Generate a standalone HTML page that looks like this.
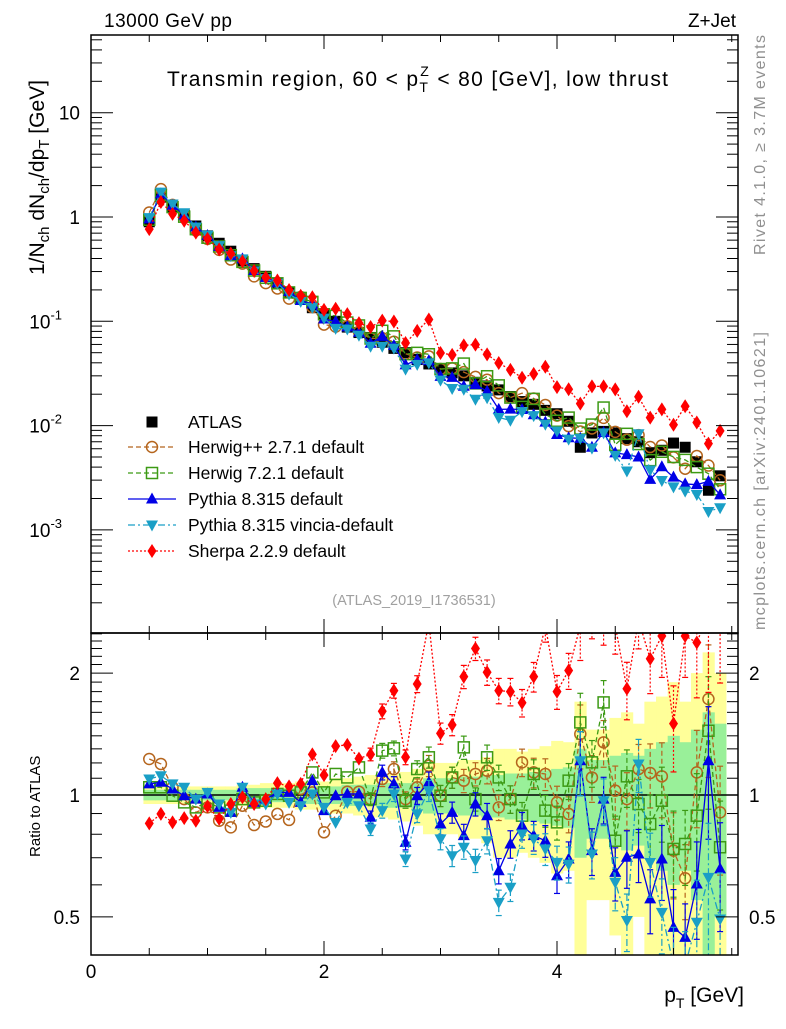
<!DOCTYPE html>
<html><head><meta charset="utf-8"><style>
body{margin:0;background:#fff}
svg{font-family:"Liberation Sans",Arial,sans-serif}
</style></head><body>
<svg id="chart" width="786" height="1024" viewBox="0 0 786 1024" xmlns="http://www.w3.org/2000/svg">
<defs>
<clipPath id="cm"><rect x="91" y="35" width="647" height="598"/></clipPath>
<clipPath id="cr"><rect x="91" y="633" width="647" height="322"/></clipPath>
</defs>
<g id="bands" clip-path="url(#cr)"></g>
<g id="main" clip-path="url(#cm)"></g>
<g id="ratio" clip-path="url(#cr)"></g>
<g id="axes"></g>
<text x="104" y="27" font-size="19" textLength="128">13000 GeV pp</text>
<text x="736" y="27" font-size="19" text-anchor="end">Z+Jet</text>
<text x="167" y="86" font-size="21" textLength="501" lengthAdjust="spacing">Transmin region, 60 &lt; p<tspan font-size="14" dy="6">T</tspan><tspan font-size="14" dx="-9" dy="-16">Z</tspan><tspan dy="10"> &lt; 80 [GeV], low thrust</tspan></text>
<text x="414" y="605" font-size="14.5" fill="#a0a0a0" text-anchor="middle">(ATLAS_2019_I1736531)</text>
<text transform="translate(765,255) rotate(-90)" font-size="16" fill="#909090" textLength="220">Rivet 4.1.0, ≥ 3.7M events</text>
<text transform="translate(765,630) rotate(-90)" font-size="16" fill="#909090" textLength="298">mcplots.cern.ch [arXiv:2401.10621]</text>
<text transform="translate(44,275) rotate(-90)" font-size="21">1/N<tspan font-size="15" dy="5">ch</tspan><tspan dy="-5"> dN</tspan><tspan font-size="15" dy="5">ch</tspan><tspan dy="-5">/dp</tspan><tspan font-size="15" dy="5">T</tspan><tspan dy="-5"> [GeV]</tspan></text>
<text transform="translate(40,857) rotate(-90)" font-size="15">Ratio to ATLAS</text>
<text x="744" y="1002" font-size="21" text-anchor="end">p<tspan font-size="14" dy="6">T</tspan><tspan dy="-6"> [GeV]</tspan></text>
<g id="legend"></g>
</svg>
<script>
const xs = [0.5,0.6,0.7,0.8,0.9,1.0,1.1,1.2,1.3,1.4,1.5,1.6,1.7,1.8,1.9,2.0,2.1,2.2,2.3,2.4,2.5,2.6,2.7,2.8,2.9,3.0,3.1,3.2,3.3,3.4,3.5,3.6,3.7,3.8,3.9,4.0,4.1,4.2,4.3,4.4,4.5,4.6,4.7,4.8,4.9,5.0,5.1,5.2,5.3,5.4];
const atlas = [0.90,1.55,1.25,1.05,0.82,0.66,0.56,0.47,0.38,0.32,0.27,0.23,0.19,0.165,0.135,0.115,0.10,0.088,0.078,0.070,0.063,0.055,0.050,0.043,0.039,0.035,0.032,0.030,0.026,0.024,0.022,0.019,0.017,0.016,0.014,0.013,0.011,0.0062,0.0085,0.0088,0.0085,0.0075,0.0070,0.0055,0.0058,0.0068,0.0062,0.0045,0.0024,0.0033];
const errTot = [0.05,0.05,0.05,0.05,0.05,0.05,0.05,0.05,0.06,0.06,0.07,0.07,0.07,0.08,0.08,0.08,0.10,0.10,0.11,0.12,0.12,0.13,0.14,0.16,0.20,0.20,0.20,0.22,0.22,0.24,0.30,0.30,0.28,0.30,0.32,0.36,0.35,0.70,0.45,0.45,0.55,0.60,0.50,0.70,0.75,0.90,0.70,1.00,1.25,1.00];
const errStat = [0.03,0.03,0.03,0.03,0.03,0.03,0.03,0.03,0.04,0.04,0.04,0.04,0.04,0.05,0.05,0.05,0.05,0.06,0.06,0.06,0.07,0.07,0.07,0.08,0.10,0.10,0.10,0.11,0.11,0.12,0.12,0.13,0.13,0.14,0.15,0.16,0.17,0.30,0.22,0.22,0.25,0.27,0.25,0.30,0.35,0.40,0.35,0.45,0.60,0.50];
const rHerwigPP = [1.227,1.193,1.045,0.977,0.906,0.932,0.864,0.832,0.941,0.843,0.860,0.898,0.868,1.035,1.015,0.809,0.889,1.019,1.019,0.977,1.095,1.159,0.977,1.045,1.181,0.996,1.105,1.085,1.127,1.148,0.932,0.977,1.204,1.137,1.127,0.959,0.898,1.414,1.105,1.349,1.025,0.977,1.159,1.133,1.112,0.729,0.623,1.137,1.726,0.906];
const rHerwig7 = [1.045,1.045,0.996,0.959,0.932,0.959,0.932,0.915,0.977,0.959,0.968,1.006,0.996,1.015,1.137,1.015,1.127,1.105,1.170,0.977,1.287,1.304,0.968,1.159,1.239,0.996,1.105,1.311,0.977,1.239,1.105,0.977,0.889,1.127,0.915,0.856,1.085,1.511,1.204,1.693,0.771,1.112,0.950,0.848,0.968,0.736,0.757,0.889,1.441,0.743];
const rPythia = [1.065,1.075,1.035,0.996,0.977,1.006,0.932,0.906,1.045,0.959,0.977,1.015,1.015,0.959,1.085,0.915,0.996,1.006,1.006,0.881,1.137,1.065,0.764,0.996,1.075,0.848,0.906,0.794,0.950,0.889,0.650,0.757,0.840,0.794,0.771,0.632,0.695,1.215,0.729,0.977,0.644,0.702,0.715,0.554,0.695,0.471,0.445,0.603,1.215,0.657];
const rVincia = [1.095,1.116,1.065,1.045,0.977,1.015,0.950,0.906,1.045,0.950,0.950,1.006,0.959,0.941,1.006,0.932,0.856,0.959,0.941,0.824,0.915,1.006,0.695,0.898,1.025,0.779,0.708,0.743,0.689,0.771,0.543,0.592,0.801,0.779,0.736,0.682,0.675,1.215,0.715,0.968,0.609,0.490,1.193,0.682,0.513,0.38,0.38,0.485,0.626,0.494];
const rSherpa = [0.851,0.898,0.856,0.877,0.864,0.938,0.873,0.95,0.987,0.95,0.977,1.07,1.05,1.065,1.26,1.12,1.32,1.33,1.23,1.26,1.61,1.81,1.24,1.88,2.67,1.42,1.49,1.96,2.30,2.01,1.81,1.80,1.69,1.96,2.62,1.80,2.03,2.62,2.8,2.7,2.62,1.83,2.7,2.17,2.47,1.50,2.47,2.38,2.8,2.7];

const NS='http://www.w3.org/2000/svg';
const X = v => 91 + 116.5*v;
const YM = v => 217 - 104.3*Math.log10(v);
const YR = v => 795 - 405*Math.log10(v);
function mk(tag, attrs, parent){const e=document.createElementNS(NS,tag);for(const k in attrs)e.setAttribute(k,attrs[k]);parent.appendChild(e);return e;}
const gB=document.getElementById('bands'), gM=document.getElementById('main'), gR=document.getElementById('ratio'), gA=document.getElementById('axes'), gL=document.getElementById('legend');

const bandSets=[[errTot,'#ffff99','total-uncertainty-band'],[errStat,'#99f099','stat-uncertainty-band']];
bandSets.forEach(([err,col,name])=>{
  err.forEach((e,i)=>{
    const lo=Math.max(1-e,0.3), hi=1+e;
    const r=mk('rect',{x:X(xs[i]-0.05),y:YR(hi),width:116.5*0.1+0.5,height:YR(lo)-YR(hi),fill:col},gB);
    
    
  });
});
mk('line',{x1:91,x2:738,y1:YR(1),y2:YR(1),stroke:'#000','stroke-width':1.5},gR);

function marker(kind,cx,cy,col,parent){
  let e;
  if(kind==='sq') e=mk('rect',{x:cx-5.5,y:cy-5.5,width:11,height:11,fill:'#000'},parent);
  else if(kind==='circ') e=mk('circle',{cx:cx,cy:cy,r:5.5,fill:'none',stroke:col,'stroke-width':1.5},parent);
  else if(kind==='osq') e=mk('rect',{x:cx-5.5,y:cy-5.5,width:11,height:11,fill:'none',stroke:col,'stroke-width':1.5},parent);
  else if(kind==='up') e=mk('polygon',{points:`${cx},${cy-6.5} ${cx-6},${cy+4.5} ${cx+6},${cy+4.5}`,fill:col},parent);
  else if(kind==='dn') e=mk('polygon',{points:`${cx},${cy+6.5} ${cx-6},${cy-4.5} ${cx+6},${cy-4.5}`,fill:col},parent);
  else if(kind==='dia') e=mk('polygon',{points:`${cx},${cy-7} ${cx-4.5},${cy} ${cx},${cy+7} ${cx+4.5},${cy}`,fill:col},parent);
  return e;
}
const series=[
  {r:rHerwigPP,col:'#b5651d',kind:'circ',dash:'5,3',name:'herwigpp',label:'Herwig++ 2.7.1 default'},
  {r:rHerwig7,col:'#3c9a14',kind:'osq',dash:'5,3',name:'herwig7',label:'Herwig 7.2.1 default'},
  {r:rPythia,col:'#0000e6',kind:'up',dash:'',name:'pythia',label:'Pythia 8.315 default'},
  {r:rVincia,col:'#1a9fc6',kind:'dn',dash:'7,3,2,3',name:'vincia',label:'Pythia 8.315 vincia-default'},
  {r:rSherpa,col:'#ff0000',kind:'dia',dash:'2,2',name:'sherpa',label:'Sherpa 2.2.9 default'}
];
xs.forEach((x,i)=>{
  const m=marker('sq',X(x),YM(atlas[i]),'#000',gM);
  
  
});
series.forEach(s=>{
  const ptsM=xs.map((x,i)=>`${X(x)},${YM(atlas[i]*s.r[i])}`).join(' ');
  const ptsR=xs.map((x,i)=>`${X(x)},${YR(s.r[i])}`).join(' ');
  const lm=mk('polyline',{points:ptsM,fill:'none',stroke:s.col,'stroke-width':1.3,'stroke-dasharray':s.dash},gM);
  
  
  const lr=mk('polyline',{points:ptsR,fill:'none',stroke:s.col,'stroke-width':1.3,'stroke-dasharray':s.dash},gR);
  
  
  xs.forEach((x,i)=>{
    const e=errStat[i]*0.6*s.r[i];
    if(i>18){
      const top=YR(s.r[i]+e), bot=YR(Math.max(s.r[i]-e,0.2));
      mk('line',{x1:X(x),x2:X(x),y1:top,y2:bot,stroke:s.col,'stroke-width':1.2,'stroke-dasharray':s.dash},gR);
      mk('line',{x1:X(x)-3,x2:X(x)+3,y1:top,y2:top,stroke:s.col,'stroke-width':1.2},gR);
      mk('line',{x1:X(x)-3,x2:X(x)+3,y1:bot,y2:bot,stroke:s.col,'stroke-width':1.2},gR);
    }
    const pm=marker(s.kind,X(x),YM(atlas[i]*s.r[i]),s.col,gM);
    
    
    const pr=marker(s.kind,X(x),YR(s.r[i]),s.col,gR);
    
    
  });
});
mk('rect',{x:91,y:35,width:647,height:598,fill:'none',stroke:'#000','stroke-width':1.5},gA);
mk('rect',{x:91,y:633,width:647,height:322,fill:'none',stroke:'#000','stroke-width':1.5},gA);
const xTicks=[0,2,4];
const xTickLabels=['0','2','4'];
for(let v=0;v<=5.5;v+=0.5){
  const major=Math.abs(v-Math.round(v/2)*2)<1e-6;
  const L=major?14:7;
  [[35,1],[633,-1],[633,1],[955,-1]].forEach(([y0,d])=>mk('line',{x1:X(v),x2:X(v),y1:y0,y2:y0+d*L,stroke:'#000','stroke-width':1},gA));
}
xTicks.forEach((v,i)=>{const t=mk('text',{x:X(v),y:978,'font-size':19,'text-anchor':'middle'},gA);t.textContent=xTickLabels[i];
  
  });
const yDec=[-4,-3,-2,-1,0,1];
for(const d of yDec){
  for(let k=1;k<10;k++){
    const v=k*Math.pow(10,d); const y=YM(v);
    if(y<35||y>633) continue;
    const L=k===1?22:11;
    mk('line',{x1:91,x2:91+L,y1:y,y2:y,stroke:'#000'},gA);
    mk('line',{x1:738,x2:738-L,y1:y,y2:y,stroke:'#000'},gA);
  }
}
const yLabels=[[10,'10'],[1,'1']];
yLabels.forEach(([v,s])=>{const t=mk('text',{x:80,y:YM(v)+7,'font-size':19,'text-anchor':'end'},gA);t.textContent=s;
  
  });
[[-1,0.1],[-2,0.01],[-3,0.001]].forEach(([e,v])=>{
  const t=mk('text',{x:62,y:YM(v)+7,'font-size':19,'text-anchor':'end'},gA);
  t.innerHTML='10<tspan font-size="13" dy="-9">'+e+'</tspan>';
  
  
});
const rTicks=[0.5,1,2];
for(const v of [0.5,0.6,0.7,0.8,0.9,1,1.1,1.2,1.3,1.4,1.5,1.6,1.7,1.8,1.9,2,2.1,2.2,2.3,2.4,2.5]){
  const y=YR(v); const major=rTicks.includes(v); const L=major?22:11;
  mk('line',{x1:91,x2:91+L,y1:y,y2:y,stroke:'#000'},gA);
  mk('line',{x1:738,x2:738-L,y1:y,y2:y,stroke:'#000'},gA);
}
rTicks.forEach(v=>{
  const s=String(v);
  const t=mk('text',{x:80,y:YR(v)+7,'font-size':19,'text-anchor':'end'},gA);t.textContent=s;
  
  
  const t2=mk('text',{x:749,y:YR(v)+7,'font-size':19},gA);t2.textContent=s;
  
  
});
const legY=[422,447,473,499,525,551];
const le0=marker('sq',152,legY[0],'#000',gL);


const lt0=mk('text',{x:188,y:legY[0]+6,'font-size':17.5},gL);lt0.textContent='ATLAS';


series.forEach((s,i)=>{
  const y=legY[i+1];
  mk('line',{x1:128,x2:176,y1:y,y2:y,stroke:s.col,'stroke-width':1.3,'stroke-dasharray':s.dash},gL);
  marker(s.kind,152,y,s.col,gL);
  const t=mk('text',{x:188,y:y+6,'font-size':17.5},gL);t.textContent=s.label;
  
  
});
</script>
</body></html>
